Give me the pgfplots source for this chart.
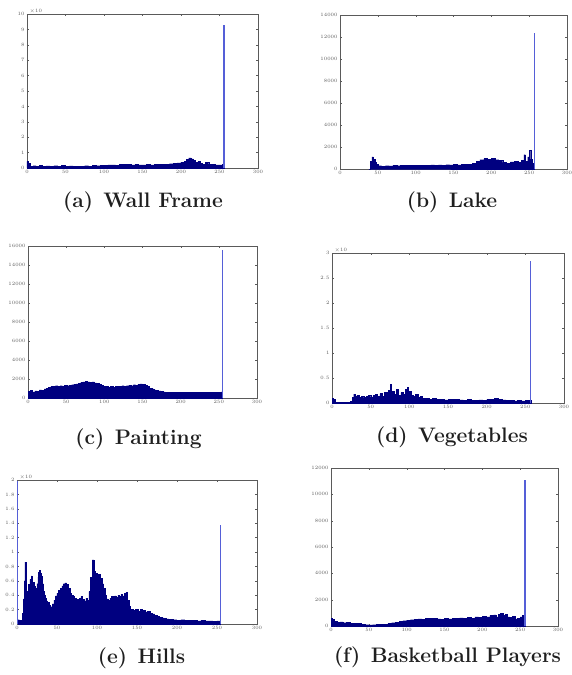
\documentclass[border=0pt]{standalone}
\usepackage{pgfplots}
\pgfplotsset{compat=1.18}
\definecolor{histfill}{RGB}{0,0,128}
\definecolor{spikecol}{RGB}{85,95,215}
\definecolor{tickgray}{RGB}{90,90,90}
\pgfplotsset{
  hist/.style={
    scale only axis, anchor=south west,
    xmin=0, xmax=300, ymin=0,
    xtick={0,50,...,300},
    scaled y ticks=false,
    tick label style={font=\fontsize{4}{4}\selectfont, text=tickgray},
    every tick/.style={tickgray, line width=0.3pt},
    major tick length=2pt,
    axis line style={tickgray, line width=0.4pt},
    /pgf/number format/1000 sep={},
    xticklabel style={yshift=1pt},
    yticklabel style={xshift=1pt},
    ytick scale label code/.code={$\times 10^{#1}$},
    every y tick scale label/.style={at={(rel axis cs:0,1)}, anchor=south west, inner sep=0.5pt, font=\fontsize{4}{4}\selectfont, text=tickgray, xshift=1pt},
  },
  histfill/.style={const plot, fill=histfill, draw=histfill, line width=0.3pt},
  spike/.style={ycomb, spikecol, line width=1.3pt, mark=none},
}
\newcommand{\subcap}[4]{\node[font=\fontsize{21}{24}\selectfont\bfseries, text=black!88, inner sep=0pt] at (#1pt,-#2pt) {#3\hspace{0.5em}#4};}
\begin{document}
\begin{tikzpicture}
\useasboundingbox (0pt,0pt) rectangle (571pt,-675pt);
% (a) Wall Frame
\begin{axis}[hist, at={(27pt,-168pt)}, width=231pt, height=154pt, ymax=100000, ytick={0,10000,...,100000}, scaled y ticks=base 10:-4]
\addplot[histfill] coordinates {(0,4300)(2,3000)(4,1200)(8,1500)(12,1000)(16,1600)(20,1200)(25,1400)(30,1100)(35,1500)(40,1300)(45,1600)(50,1200)(55,1400)(60,1100)(65,1300)(70,1200)(75,1500)(80,1300)(85,1600)(90,1500)(95,1800)(100,1700)(105,2000)(110,2100)(115,1900)(120,2200)(125,2500)(130,2300)(135,2100)(140,2200)(145,2000)(150,2100)(155,2300)(160,2100)(165,2400)(170,2200)(175,2600)(180,2400)(185,2800)(190,3000)(195,3400)(200,3800)(204,4500)(207,5500)(210,6500)(213,6000)(216,5000)(219,3500)(222,4200)(225,3000)(228,2500)(232,3800)(236,2600)(240,2200)(245,2000)(250,2100)(254,2300)(256,0)} \closedcycle;
\addplot[spike] coordinates {(256,92800)};
\end{axis}
% (b) Lake
\begin{axis}[hist, at={(340pt,-169pt)}, width=227pt, height=154pt, ymax=14000, ytick={0,2000,...,14000}]
\addplot[histfill] coordinates {(38,0)(40,700)(42,1100)(44,900)(46,600)(48,400)(50,300)(55,250)(60,300)(65,280)(70,320)(75,300)(80,330)(85,310)(90,340)(95,320)(100,350)(105,330)(110,360)(115,340)(120,370)(125,350)(130,380)(135,360)(140,390)(145,370)(150,400)(155,380)(160,400)(165,420)(170,450)(175,500)(180,700)(185,850)(190,950)(195,900)(200,950)(205,850)(210,800)(215,600)(220,500)(225,650)(230,700)(235,600)(240,800)(243,1300)(245,700)(248,1100)(250,1700)(252,900)(254,500)(257,0)} \closedcycle;
\addplot[spike] coordinates {(257,12400)};
\end{axis}
% (c) Painting
\begin{axis}[hist, at={(28pt,-398pt)}, width=229pt, height=152pt, ymax=16000, ytick={0,2000,...,16000}]
\addplot[histfill] coordinates {(0,700)(3,800)(6,650)(9,750)(12,700)(15,850)(18,800)(21,950)(24,1050)(27,1150)(30,1250)(33,1200)(36,1300)(39,1250)(42,1300)(45,1250)(48,1350)(51,1300)(54,1350)(57,1400)(60,1450)(63,1500)(66,1550)(69,1650)(72,1700)(75,1750)(78,1700)(81,1650)(84,1700)(87,1600)(90,1550)(93,1450)(96,1350)(99,1250)(102,1200)(105,1150)(108,1200)(111,1150)(114,1200)(117,1250)(120,1250)(123,1300)(126,1250)(129,1300)(132,1350)(135,1300)(138,1400)(141,1350)(144,1450)(147,1500)(150,1450)(153,1350)(156,1200)(159,1050)(162,950)(165,850)(168,800)(171,750)(174,700)(177,650)(180,600)(185,580)(190,600)(195,570)(200,600)(205,580)(210,600)(215,570)(220,590)(225,600)(230,580)(235,610)(240,590)(245,620)(250,600)(253,650)(255,0)} \closedcycle;
\addplot[spike] coordinates {(255,15600)};
\end{axis}
% (d) Vegetables
\begin{axis}[hist, at={(332pt,-403pt)}, width=232pt, height=150pt, ymax=30000, ytick={0,5000,...,30000}, scaled y ticks=base 10:-4]
\addplot[histfill] coordinates {(0,900)(2,700)(4,200)(8,100)(15,100)(20,150)(24,300)(26,1100)(28,1800)(30,1300)(32,1500)(35,1200)(38,1400)(41,1100)(44,1300)(47,1600)(50,1200)(53,1500)(56,1700)(59,1300)(62,1900)(65,1400)(68,2200)(71,1600)(73,2600)(75,3700)(77,2400)(80,1800)(83,2800)(86,1600)(89,2100)(92,1700)(95,2700)(97,3200)(99,2400)(102,1600)(105,1300)(108,1700)(111,1100)(114,1300)(117,900)(120,1000)(125,800)(130,900)(135,700)(140,800)(145,650)(150,750)(155,700)(160,800)(165,650)(170,600)(175,700)(180,550)(185,600)(190,650)(195,600)(200,700)(205,800)(210,900)(215,800)(220,650)(225,550)(230,500)(235,450)(240,500)(245,450)(250,500)(255,550)(257,0)} \closedcycle;
\addplot[spike] coordinates {(257,28500)};
\end{axis}
% (e) Hills
\begin{axis}[hist, at={(17pt,-624pt)}, width=240pt, height=144pt, ymax=20000, ytick={0,2000,...,20000}, scaled y ticks=base 10:-4]
\addplot[histfill] coordinates {(1,600)(3,500)(5,450)(7,1500)(8,3500)(9,6000)(10,8600)(11,5000)(12,3500)(13,4500)(14,5500)(15,5000)(16,6200)(17,5600)(18,6700)(19,5800)(20,5400)(21,5800)(22,5200)(23,5000)(24,4500)(25,5600)(26,6500)(27,7200)(28,7500)(29,7000)(30,6600)(31,6200)(32,5600)(33,4500)(34,4000)(35,3600)(36,3200)(38,3000)(40,2600)(42,2400)(44,2800)(46,3300)(48,3900)(50,4300)(52,4700)(54,5000)(56,5300)(58,5600)(60,5700)(62,5500)(64,5000)(66,4300)(68,4000)(70,3800)(72,3600)(74,3400)(76,3300)(78,3600)(80,3800)(82,3400)(84,3200)(86,3600)(88,3300)(90,4500)(92,6500)(94,8900)(96,7300)(98,7000)(100,6600)(102,6900)(104,6300)(106,5600)(108,5000)(110,4000)(112,3500)(114,3300)(116,3600)(118,3800)(120,3500)(122,3900)(124,3700)(126,4000)(128,3800)(130,4100)(132,3900)(134,4300)(136,4400)(138,3300)(140,2500)(142,2000)(145,1900)(148,2000)(151,1800)(154,2000)(157,1900)(160,1700)(163,1800)(166,1500)(169,1400)(172,1200)(175,1100)(178,900)(181,850)(184,800)(187,700)(190,650)(195,600)(200,550)(205,600)(210,500)(215,550)(220,500)(225,450)(230,500)(235,450)(240,420)(245,400)(250,420)(254,0)} \closedcycle;
\addplot[spike] coordinates {(0.6,19800)};
\addplot[spike] coordinates {(254,13700)};
\end{axis}
% (f) Basketball Players
\begin{axis}[hist, at={(331pt,-626pt)}, width=227pt, height=158pt, ymax=12000, ytick={0,2000,...,12000}]
\addplot[histfill] coordinates {(0,600)(2,500)(4,350)(8,300)(12,320)(16,250)(20,280)(25,220)(30,200)(35,180)(40,120)(45,100)(50,90)(55,100)(60,110)(65,120)(70,150)(75,200)(80,250)(85,300)(90,350)(95,400)(100,450)(105,480)(110,500)(115,550)(120,520)(125,580)(130,560)(135,600)(140,550)(145,520)(150,580)(155,540)(160,600)(165,560)(170,620)(175,580)(180,650)(185,600)(190,700)(195,650)(200,750)(205,700)(210,800)(215,850)(218,700)(221,900)(224,950)(227,800)(230,900)(233,700)(236,650)(240,750)(243,550)(246,600)(250,700)(253,800)(256,0)} \closedcycle;
\addplot[spike] coordinates {(256.5,11100)};
\end{axis}
\subcap{143}{202}{(a)}{Wall Frame}
\subcap{452}{202}{(b)}{Lake}
\subcap{138.5}{439}{(c)}{Painting}
\subcap{452}{437}{(d)}{Vegetables}
\subcap{141.5}{658}{(e)}{Hills}
\subcap{447.5}{657}{(f)}{Basketball Players}
\end{tikzpicture}
\end{document}
